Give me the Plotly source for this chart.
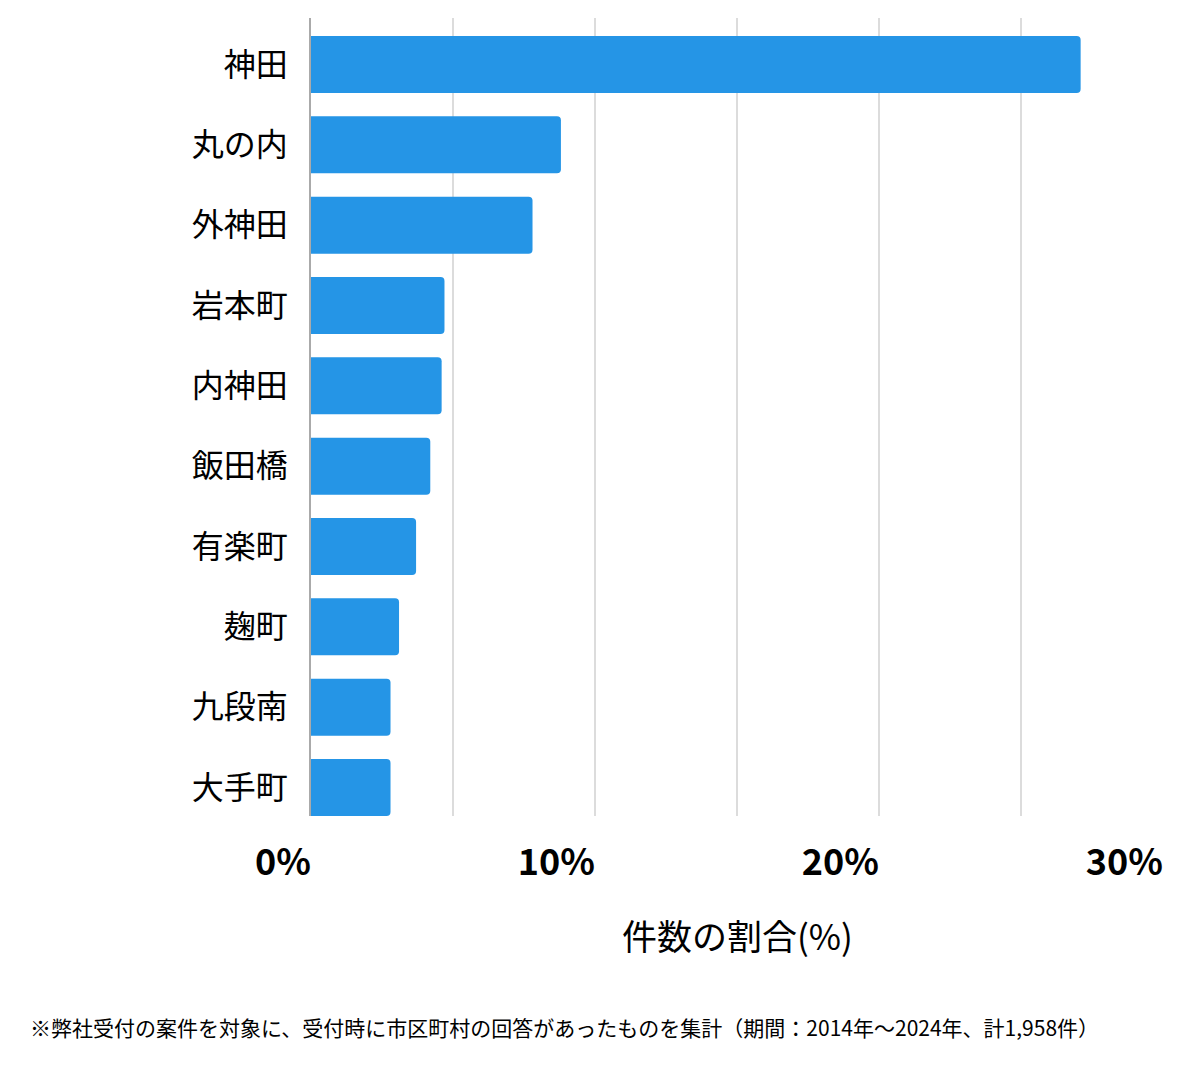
import plotly.graph_objects as go

categories = ["神田", "丸の内", "外神田", "岩本町", "内神田", "飯田橋", "有楽町", "麹町", "九段南", "大手町"]
values = [27.1, 8.8, 7.8, 4.7, 4.6, 4.2, 3.7, 3.1, 2.8, 2.8]
tick_vals = [0, 5, 10, 15, 20, 25, 30]
tick_text = ["0%", "", "10%", "", "20%", "", "30%"]
x_title = "件数の割合(%)"
footnote = "※弊社受付の案件を対象に、受付時に市区町村の回答があったものを集計（期間：2014年〜2024年、計1,958件）"

FONT = "Noto Sans CJK JP"

fig = go.Figure(go.Bar(
    x=values, y=categories, orientation="h",
    marker=dict(color="#2595E6", cornerradius=4, line=dict(width=0)),
    hoverinfo="x+y",
))

fig.update_layout(
    width=1200, height=1069,
    margin=dict(l=311, r=37, t=18, b=253, autoexpand=False),
    paper_bgcolor="white", plot_bgcolor="white",
    bargap=0.29,
    showlegend=False,
    font=dict(family=FONT, color="#000"),
)

fig.update_xaxes(
    range=[0, 30], tickvals=tick_vals, ticktext=tick_text,
    showgrid=True, gridcolor="#dcdcdc", gridwidth=1.5,
    zeroline=False, showline=False,
    ticks="", ticklabelposition="outside left",
    ticklabelstandoff=22,
    tickfont=dict(family=FONT, size=36, weight="bold", color="#000"),
    fixedrange=True,
)

fig.update_yaxes(
    type="category", categoryorder="array", categoryarray=categories,
    range=[9.355, -0.579],
    showgrid=False, zeroline=False,
    showline=True, linecolor="#aaaaaa", linewidth=1.5,
    ticks="", ticklabelstandoff=15,
    tickfont=dict(family=FONT, size=32, weight=400, color="#000"),
    fixedrange=True,
)

fig.add_annotation(
    text=x_title, xref="paper", yref="paper", x=0.5, y=0,
    xanchor="center", yanchor="middle", yshift=-118, showarrow=False,
    font=dict(family=FONT, size=35, color="#000"),
)
fig.add_annotation(
    text=footnote, xref="paper", yref="paper", x=0, y=0,
    xanchor="left", yanchor="middle", xshift=-283, yshift=-211, showarrow=False,
    font=dict(family=FONT, size=21, color="#000"),
)

fig.write_html("out.html")
